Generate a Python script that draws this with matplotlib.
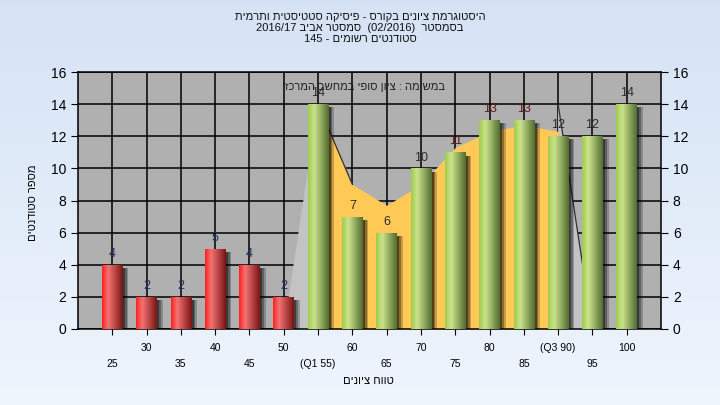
import re
import numpy as np
import matplotlib
matplotlib.use('Agg')
import matplotlib.pyplot as plt
from matplotlib.patches import Rectangle, Polygon

plt.rcParams['font.family'] = ['Liberation Sans Narrow', 'Liberation Sans', 'DejaVu Sans']

# נתונים
grades = ['25', '30', '35', '40', '45', '50', '(Q1 55)', '60', '65', '70', '75',
          '80', '85', '(Q3 90)', '95', '100']
counts = [4, 2, 2, 5, 4, 2, 14, 7, 6, 10, 11, 13, 13, 12, 12, 14]
# אזור בין הרבעונים (Q1..Q3)
iqr_pos = [7, 8, 9, 10, 11, 12, 13, 14]
iqr_vals = [14, 9, 7.7, 9, 11.3, 12.3, 12.7, 12.3]
edge_left = [(6, 0), (7, 14), (7, 0)]
edge_right = [(14, 14), (15, 0), (14, 0)]

title = ['היסטוגרמת ציונים בקורס - פיסיקה סטטיסטית ותרמית',
         'בסמסטר  (02/2016)  סמסטר אביב 2016/17',
         'סטודנטים רשומים - 145']
note = 'במשימה : ציון סופי במחשב המרכזי'
xlab = 'טווח ציונים'
ylab = 'מספר סטודנטים'


def heb(s):
    # matplotlib אינו מטפל בכיווניות - הופכים ידנית
    toks = re.findall(r'[0-9A-Za-z/.]+|.', s)
    out = ''.join(toks[::-1])
    return out.translate(str.maketrans('()', ')('))


fig = plt.figure(figsize=(7.2, 4.05), dpi=100)

# רקע מדורג
bg = fig.add_axes([0, 0, 1, 1], zorder=-5)
grad = np.linspace(0, 1, 256)[:, None]
top_c = np.array([0.835, 0.890, 0.960])
bot_c = np.array([0.935, 0.960, 0.992])
img = top_c[None, None, :] * (1 - grad[:, :, None]) + bot_c[None, None, :] * grad[:, :, None]
bg.imshow(img, aspect='auto', extent=[0, 1, 0, 1])
bg.axis('off')

ax = fig.add_axes([78 / 720, 1 - 329 / 405, (661 - 78) / 720, (329 - 72) / 405])
ax.set_facecolor('#B0B0B0')
x = np.arange(1, len(counts) + 1)

ax.set_axisbelow(True)
ax.grid(True, color='black', linewidth=1.1)

# אזורים
ax.add_patch(Polygon(edge_left, closed=True, facecolor='#C3C3C3', edgecolor='none', zorder=1))
ax.add_patch(Polygon(edge_right, closed=True, facecolor='#C3C3C3', edgecolor='none', zorder=1))
ax.fill_between(iqr_pos, 0, iqr_vals, color='#FFC956', linewidth=0, zorder=1.2)
ax.plot([edge_right[0][0], edge_right[1][0]], [edge_right[0][1], edge_right[1][1]],
        color='#303030', lw=0.9, zorder=1.3)
ax.plot(iqr_pos[:2], iqr_vals[:2], color='#303030', lw=0.9, zorder=1.3)


def cmap_row(stops):
    pos = [p for p, _ in stops]
    cols = np.array([c for _, c in stops])
    t = np.linspace(0, 1, 64)
    return np.stack([np.interp(t, pos, cols[:, i]) for i in range(3)], axis=-1)[None, :, :]


red_g = cmap_row([(0, (1.0, 0.13, 0.13)), (0.3, (0.95, 0.45, 0.45)), (1, (0.48, 0.08, 0.08))])
green_g = cmap_row([(0, (0.62, 0.80, 0.30)), (0.3, (0.80, 0.89, 0.55)), (1, (0.32, 0.43, 0.19))])

w = 0.6
for i, (xi, v) in enumerate(zip(x, counts)):
    # צל
    for k, a in [(0.17, 0.22), (0.12, 0.3), (0.07, 0.4)]:
        ax.add_patch(Rectangle((xi - w / 2 + k, 0), w, v - 0.2, facecolor='black',
                               alpha=a, edgecolor='none', zorder=2))
    r = Rectangle((xi - w / 2, 0), w, v, facecolor='none', edgecolor='none', zorder=3)
    ax.add_patch(r)
    g = red_g if i < 6 else green_g
    im = ax.imshow(g, aspect='auto', extent=[xi - w / 2, xi + w / 2, 0, v], zorder=3)
    im.set_clip_path(r)
    lc = '#1F3060' if i < 6 else ('#5A1A1A' if v in (11, 13) else '#2A2A2A')
    ax.text(xi, v + 0.3, str(v), ha='center', va='bottom', fontsize=9, color=lc, zorder=5)

ax.text(10.7, 15.05, heb(note), ha='right', va='center', fontsize=8, color='#202020', zorder=6)

ax.set_xlim(0, 17)
ax.set_ylim(0, 16)
ax.set_yticks(range(0, 17, 2))
ax.set_xticks(x)
ax.set_xticklabels([('\n' + g) if i % 2 == 0 else g for i, g in enumerate(grades)], fontsize=7.5)
for lbl in ax.get_xticklabels():
    lbl.set_linespacing(1.8)
ax.tick_params(axis='x', length=4, pad=6, color='black')
ax.tick_params(axis='y', length=5, labelsize=10, right=True, labelright=True, color='black')
for s in ax.spines.values():
    s.set_color('black')
    s.set_linewidth(1.1)

fig.text(0.5, 1 - 12 / 405, '\n'.join(heb(t) for t in title), ha='center', va='top',
         fontsize=8, linespacing=1.1, color='#111111')
fig.text(368 / 720, 1 - 381 / 405, heb(xlab), ha='center', va='center', fontsize=8)
fig.text(33 / 720, 1 - 203 / 405, heb(ylab), ha='center', va='center', fontsize=8, rotation=90)

fig.savefig('out.png', dpi=100)
